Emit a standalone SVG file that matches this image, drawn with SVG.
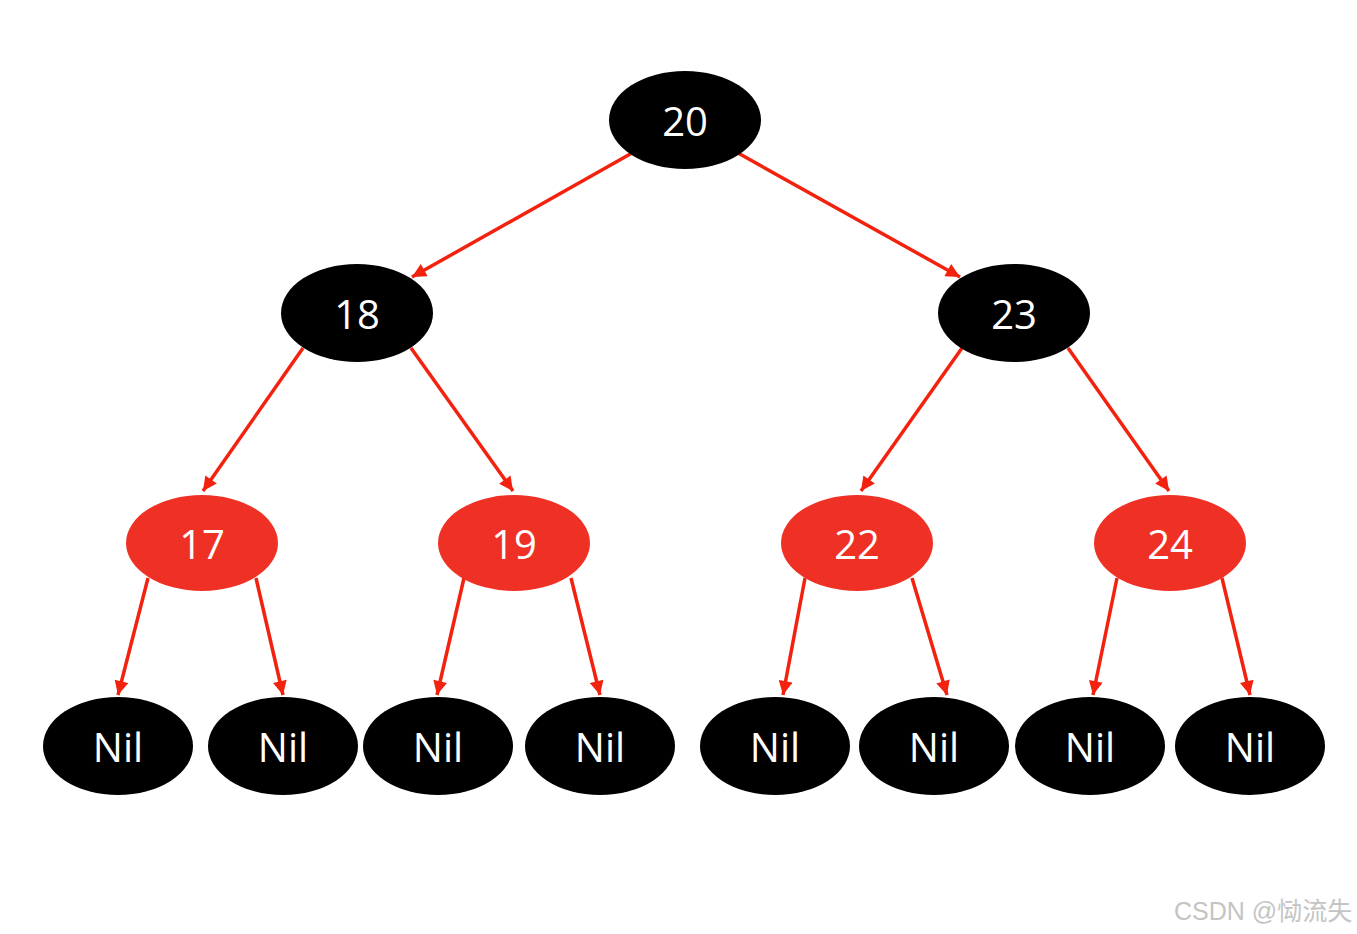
<svg xmlns="http://www.w3.org/2000/svg" width="1357" height="934" viewBox="0 0 1357 934">
<defs>
<marker id="ah" viewBox="0 0 10 10" refX="10" refY="5" markerWidth="4.3" markerHeight="4" markerUnits="strokeWidth" orient="auto">
<path d="M0,0 L10,5 L0,10 Z" fill="#f2220f"/>
</marker>
<style>
.b{fill:#000}
.r{fill:#ee3124}
.t{fill:#fff;font-family:"Open Sans","Noto Sans",sans-serif;font-size:40px;text-anchor:middle;dominant-baseline:central}
.e{stroke:#f2220f;stroke-width:3.5;fill:none;marker-end:url(#ah)}
.w{fill:#c4c4c4;font-family:"Liberation Sans","Noto Sans CJK SC",sans-serif;font-size:25px}
</style>
</defs>
<rect width="1357" height="934" fill="#fff"/>
<g id="connectors">
<line class="e" x1="632" y1="153" x2="412" y2="277"/>
<line class="e" x1="738" y1="153" x2="960" y2="277"/>
<line class="e" x1="303" y1="348" x2="203" y2="491"/>
<line class="e" x1="411" y1="348" x2="513" y2="491"/>
<line class="e" x1="962" y1="348" x2="861" y2="491"/>
<line class="e" x1="1068" y1="348" x2="1169" y2="491"/>
<line class="e" x1="148" y1="578" x2="118" y2="695"/>
<line class="e" x1="256" y1="578" x2="283" y2="695"/>
<line class="e" x1="464" y1="578" x2="437" y2="695"/>
<line class="e" x1="571" y1="578" x2="600" y2="695"/>
<line class="e" x1="805" y1="578" x2="783" y2="695"/>
<line class="e" x1="912" y1="578" x2="947" y2="695"/>
<line class="e" x1="1117" y1="578" x2="1093" y2="695"/>
<line class="e" x1="1222" y1="578" x2="1250" y2="695"/>
</g>
<g id="n20"><ellipse class="b" cx="685" cy="120" rx="76" ry="49"/><text class="t" x="685" y="120">20</text></g>
<g id="n18"><ellipse class="b" cx="357" cy="313" rx="76" ry="49"/><text class="t" x="357" y="313">18</text></g>
<g id="n23"><ellipse class="b" cx="1014" cy="313" rx="76" ry="49"/><text class="t" x="1014" y="313">23</text></g>
<g id="n17"><ellipse class="r" cx="202" cy="543" rx="76" ry="48"/><text class="t" x="202" y="543">17</text></g>
<g id="n19"><ellipse class="r" cx="514" cy="543" rx="76" ry="48"/><text class="t" x="514" y="543">19</text></g>
<g id="n22"><ellipse class="r" cx="857" cy="543" rx="76" ry="48"/><text class="t" x="857" y="543">22</text></g>
<g id="n24"><ellipse class="r" cx="1170" cy="543" rx="76" ry="48"/><text class="t" x="1170" y="543">24</text></g>
<g id="nil1"><ellipse class="b" cx="118" cy="746" rx="75" ry="49"/><text class="t" x="118" y="746">Nil</text></g>
<g id="nil2"><ellipse class="b" cx="283" cy="746" rx="75" ry="49"/><text class="t" x="283" y="746">Nil</text></g>
<g id="nil3"><ellipse class="b" cx="438" cy="746" rx="75" ry="49"/><text class="t" x="438" y="746">Nil</text></g>
<g id="nil4"><ellipse class="b" cx="600" cy="746" rx="75" ry="49"/><text class="t" x="600" y="746">Nil</text></g>
<g id="nil5"><ellipse class="b" cx="775" cy="746" rx="75" ry="49"/><text class="t" x="775" y="746">Nil</text></g>
<g id="nil6"><ellipse class="b" cx="934" cy="746" rx="75" ry="49"/><text class="t" x="934" y="746">Nil</text></g>
<g id="nil7"><ellipse class="b" cx="1090" cy="746" rx="75" ry="49"/><text class="t" x="1090" y="746">Nil</text></g>
<g id="nil8"><ellipse class="b" cx="1250" cy="746" rx="75" ry="49"/><text class="t" x="1250" y="746">Nil</text></g>
<text class="w" x="1174" y="920">CSDN @恸流失</text>
</svg>
